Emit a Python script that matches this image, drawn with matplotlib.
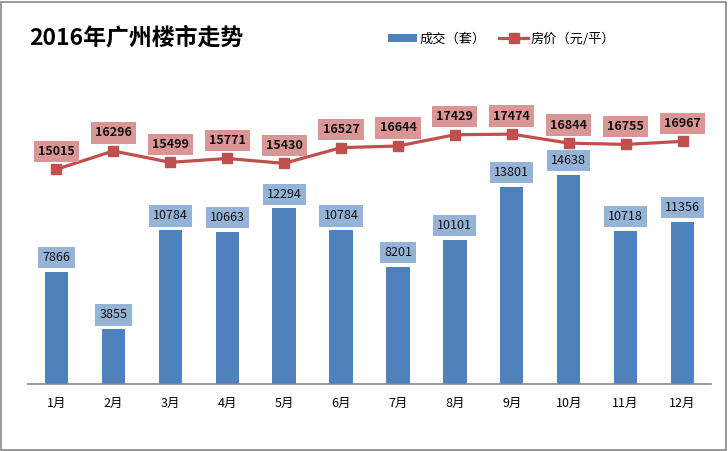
import matplotlib
matplotlib.use('Agg')
import matplotlib.pyplot as plt
from matplotlib.patches import Patch, Rectangle
from matplotlib.lines import Line2D
import numpy as np

plt.rcParams['font.family'] = ['Noto Sans CJK SC', 'DejaVu Sans']

# Data
months = ['1月', '2月', '3月', '4月', '5月', '6月', '7月', '8月', '9月', '10月', '11月', '12月']
deals = [7866, 3855, 10784, 10663, 12294, 10784, 8201, 10101, 13801, 14638, 10718, 11356]
prices = [15015, 16296, 15499, 15771, 15430, 16527, 16644, 17429, 17474, 16844, 16755, 16967]

bar_color = '#4F81BD'
line_color = '#C0504D'

W, H = 728, 451
fig = plt.figure(figsize=(W / 100, H / 100), dpi=100)

# plot area: baseline at y=384px, x from 28 to 711 px
ax = fig.add_axes([28 / W, (H - 384) / H, (711 - 28) / W, 314.6 / H])
x = np.arange(len(months))

ax.bar(x, deals, width=0.41, color=bar_color, zorder=2)
ax.plot(x, prices, color=line_color, lw=2.3, marker='s', markersize=7,
        markerfacecolor=line_color, markeredgecolor=line_color, zorder=3)

ax.set_xlim(-0.5, len(months) - 0.5)
ax.set_ylim(0, 22000)
ax.set_yticks([])
ax.set_xticks(x)
ax.set_xticklabels(months, fontsize=9)
ax.tick_params(axis='x', length=0, pad=9)
for s in ['top', 'left', 'right']:
    ax.spines[s].set_visible(False)
ax.spines['bottom'].set_color('#868686')
ax.spines['bottom'].set_linewidth(1.2)

# value labels on bars
for xi, v in zip(x, deals):
    ax.annotate(str(v), (xi, v), xytext=(0, 10), textcoords='offset points',
                ha='center', va='center', fontsize=9, color='#111111',
                bbox=dict(boxstyle='square,pad=0.33', fc='#95B3D7', ec='none'),
                zorder=4)

# value labels on line
for xi, v in zip(x, prices):
    ax.annotate(str(v), (xi, v), xytext=(0, 13), textcoords='offset points',
                ha='center', va='center', fontsize=9, fontweight='bold', color='#111111',
                bbox=dict(boxstyle='square,pad=0.33', fc='#D99694', ec='none'),
                zorder=4)

# title
fig.text(29 / W, 1 - 38 / H, '2016年广州楼市走势', fontsize=16.5, fontweight='bold',
         ha='left', va='center')

# legend
handles = [Patch(facecolor=bar_color, edgecolor='none'),
           Line2D([0], [0], color=line_color, lw=2.3, marker='s', markersize=7)]
fig.legend(handles, ['成交（套）', '房价（元/平）'], loc='center left',
           bbox_to_anchor=(376 / W, 1 - 39 / H), ncol=2, frameon=False,
           fontsize=9.5, handlelength=2.2, handleheight=0.5, handletextpad=0.2,
           columnspacing=1.0)

# outer border
fig.patches.append(Rectangle((1 / W, 1 / H), (W - 3) / W, (H - 3) / H,
                             transform=fig.transFigure, fill=False,
                             edgecolor='#888888', lw=1.2))

fig.savefig('out.png', dpi=100, facecolor='white')
